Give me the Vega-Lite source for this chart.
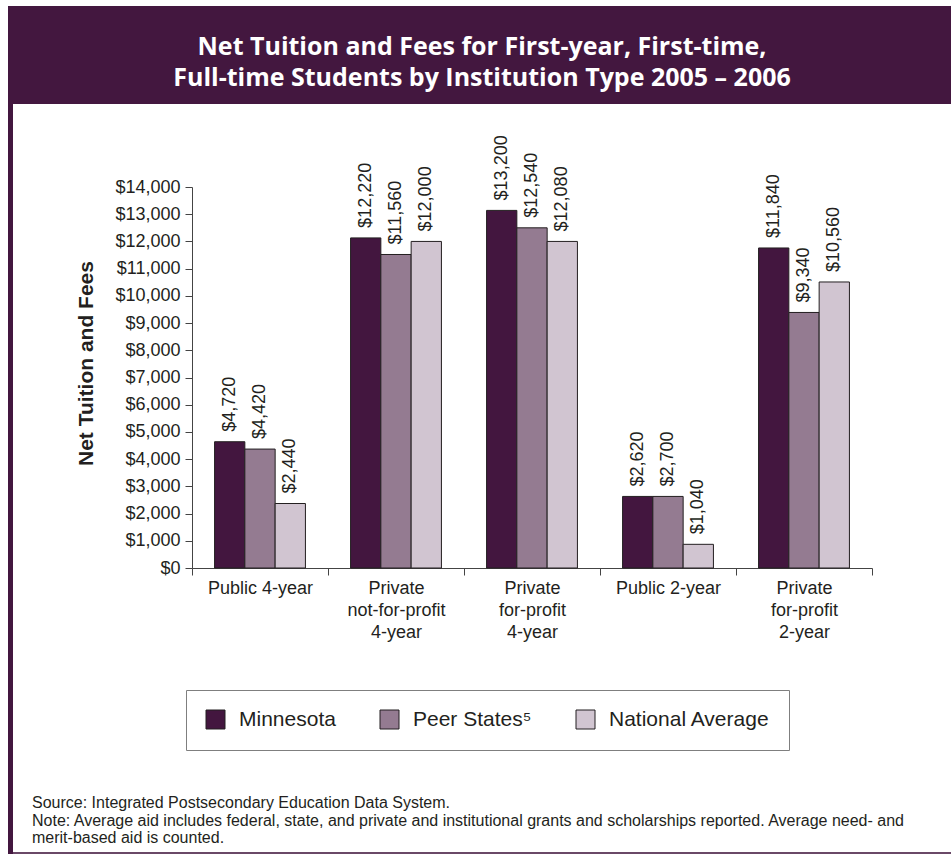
{
  "$schema": "https://vega.github.io/schema/vega-lite/v6.json",
  "background": "white",
  "padding": {"left": 8, "top": 6, "right": 0, "bottom": 3},
  "config": {"view": {"stroke": null}, "font": "Liberation Sans"},
  "bounds": "flush",
  "spacing": 0,
  "resolve": {"scale": {"color": "independent"}, "legend": {"color": "independent"}},
  "hconcat": [
    {
      "width": 5,
      "height": 848,
      "view": {"fill": "#43173F", "stroke": null},
      "data": {"values": []},
      "mark": "point"
    },
    {
      "bounds": "flush",
      "spacing": 83,
      "resolve": {"scale": {"color": "independent"}, "legend": {"color": "independent"}},
      "vconcat": [
        {
          "width": 938,
          "height": 98,
          "view": {"fill": "#43173F", "stroke": null},
          "data": {"values": [{"title": "Net Tuition and Fees for First-year, First-time,\nFull-time Students by Institution Type 2005 – 2006"}]},
          "mark": {"type": "text", "color": "white", "font": "Open Sans", "fontSize": 25, "fontWeight": "bold", "lineBreak": "\n", "lineHeight": 31, "baseline": "middle", "align": "center", "dy": -8},
          "encoding": {"text": {"field": "title"}}
        },
        {
          "bounds": "flush",
          "spacing": 665,
          "resolve": {"scale": {"color": "independent"}, "legend": {"color": "independent"}},
          "vconcat": [
            {
              "bounds": "flush",
              "spacing": 178,
              "resolve": {"scale": {"color": "independent"}, "legend": {"color": "independent"}},
              "hconcat": [
                {"width": 1, "height": 1, "data": {"values": []}, "mark": "point"},
                {
                  "width": 680,
                  "height": 381,
                  "data": {"values": [
                    {"type": "Public 4-year", "group": "Minnesota", "value": 4640, "label": "$4,720"},
                    {"type": "Public 4-year", "group": "Peer States⁵", "value": 4370, "label": "$4,420"},
                    {"type": "Public 4-year", "group": "National Average", "value": 2370, "label": "$2,440"},
                    {"type": "Private\nnot-for-profit\n4-year", "group": "Minnesota", "value": 12130, "label": "$12,220"},
                    {"type": "Private\nnot-for-profit\n4-year", "group": "Peer States⁵", "value": 11520, "label": "$11,560"},
                    {"type": "Private\nnot-for-profit\n4-year", "group": "National Average", "value": 12000, "label": "$12,000"},
                    {"type": "Private\nfor-profit\n4-year", "group": "Minnesota", "value": 13140, "label": "$13,200"},
                    {"type": "Private\nfor-profit\n4-year", "group": "Peer States⁵", "value": 12500, "label": "$12,540"},
                    {"type": "Private\nfor-profit\n4-year", "group": "National Average", "value": 12000, "label": "$12,080"},
                    {"type": "Public 2-year", "group": "Minnesota", "value": 2630, "label": "$2,620"},
                    {"type": "Public 2-year", "group": "Peer States⁵", "value": 2630, "label": "$2,700"},
                    {"type": "Public 2-year", "group": "National Average", "value": 870, "label": "$1,040"},
                    {"type": "Private\nfor-profit\n2-year", "group": "Minnesota", "value": 11760, "label": "$11,840"},
                    {"type": "Private\nfor-profit\n2-year", "group": "Peer States⁵", "value": 9390, "label": "$9,340"},
                    {"type": "Private\nfor-profit\n2-year", "group": "National Average", "value": 10510, "label": "$10,560"}
                  ]},
                  "encoding": {
                    "x": {
                      "field": "type",
                      "type": "nominal",
                      "sort": ["Public 4-year", "Private\nnot-for-profit\n4-year", "Private\nfor-profit\n4-year", "Public 2-year", "Private\nfor-profit\n2-year"],
                      "scale": {"paddingInner": 0, "paddingOuter": 0},
                      "axis": {
                        "title": null,
                        "labelAngle": 0,
                        "labelExpr": "split(datum.label, '\\n')",
                        "labelFontSize": 18,
                        "labelLineHeight": 22,
                        "labelColor": "#231F20",
                        "labelPadding": 4,
                        "tickBand": "extent",
                        "tickSize": 7,
                        "tickColor": "#444444",
                        "domainColor": "#444444"
                      }
                    },
                    "xOffset": {
                      "field": "group",
                      "type": "nominal",
                      "sort": ["Minnesota", "Peer States⁵", "National Average"],
                      "scale": {"paddingInner": 0, "paddingOuter": 0.745}
                    },
                    "y": {
                      "field": "value",
                      "type": "quantitative",
                      "scale": {"domain": [0, 14000]},
                      "axis": {
                        "title": "Net Tuition and Fees",
                        "values": [0, 1000, 2000, 3000, 4000, 5000, 6000, 7000, 8000, 9000, 10000, 11000, 12000, 13000, 14000],
                        "format": "$,.0f",
                        "grid": false,
                        "labelFontSize": 18,
                        "labelColor": "#231F20",
                        "labelPadding": 5,
                        "tickSize": 7,
                        "tickColor": "#444444",
                        "domainColor": "#444444",
                        "titleFontSize": 21,
                        "titleFontWeight": "bold",
                        "titleColor": "#231F20",
                        "titlePadding": 18,
                        "titleY": 176
                      }
                    }
                  },
                  "layer": [
                    {
                      "mark": {"type": "bar", "stroke": "#231F20", "strokeWidth": 1},
                      "encoding": {
                        "color": {
                          "field": "group",
                          "type": "nominal",
                          "scale": {"domain": ["Minnesota", "Peer States⁵", "National Average"], "range": ["#43163F", "#947B91", "#D1C5D1"]},
                          "legend": {
                            "title": null,
                            "orient": "none",
                            "legendX": -6,
                            "legendY": 503,
                            "direction": "horizontal",
                            "symbolType": "square",
                            "symbolSize": 361,
                            "symbolStrokeColor": "#231F20",
                            "symbolStrokeWidth": 1,
                            "symbolOpacity": 1,
                            "labelFontSize": 21,
                            "labelColor": "#231F20",
                            "labelOffset": 13,
                            "labelLimit": 300,
                            "columnPadding": 42,
                            "padding": 19,
                            "strokeColor": "#7f7f7f"
                          }
                        }
                      }
                    },
                    {
                      "mark": {"type": "text", "angle": 270, "align": "left", "baseline": "middle", "dx": 10, "fontSize": 18, "color": "#231F20"},
                      "encoding": {"text": {"field": "label"}}
                    }
                  ]
                }
              ]
            },
            {
              "width": 938,
              "height": 2,
              "view": {"fill": "#6A4867", "stroke": null},
              "data": {"values": []},
              "mark": "point",
              "title": {
                "text": [
                  "Source: Integrated Postsecondary Education Data System.",
                  "Note: Average aid includes federal, state, and private and institutional grants and scholarships reported. Average need- and",
                  "merit-based aid is counted."
                ],
                "anchor": "start",
                "orient": "top",
                "frame": "group",
                "font": "Liberation Sans",
                "fontSize": 16,
                "fontWeight": "normal",
                "color": "#231F20",
                "lineHeight": 17.5,
                "offset": 6,
                "dx": 19
              }
            }
          ]
        }
      ]
    }
  ]
}
